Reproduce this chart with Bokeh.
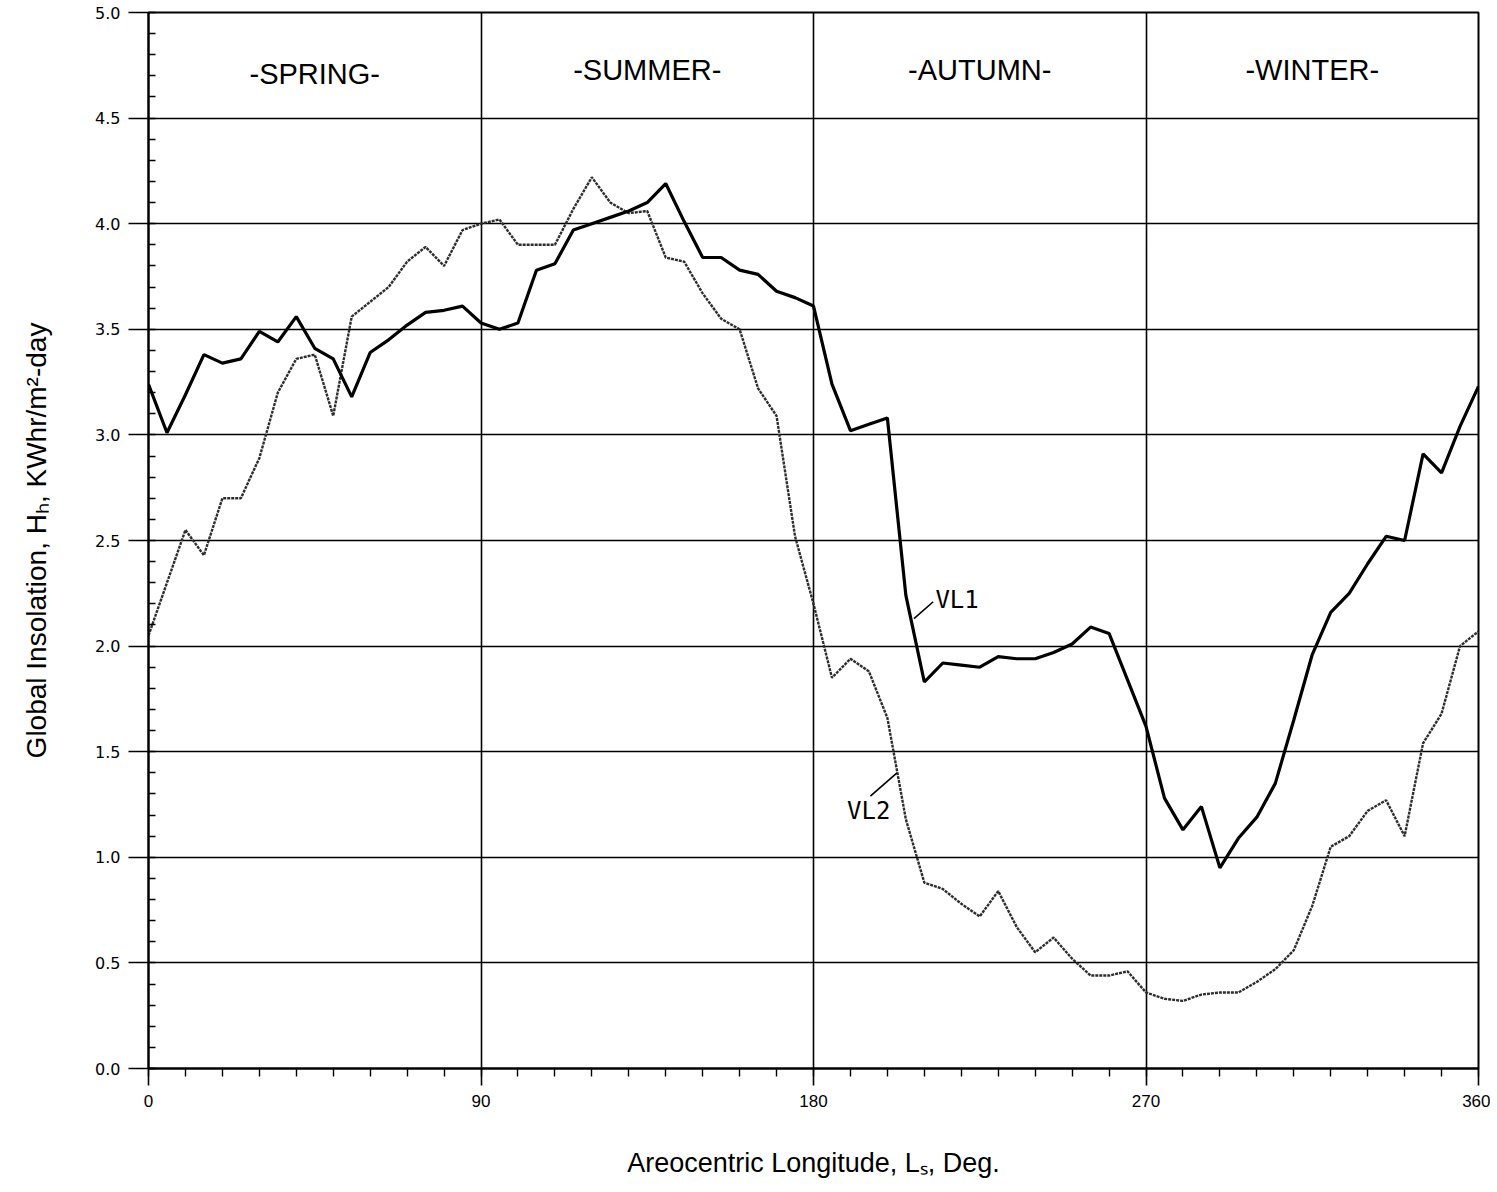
from bokeh.plotting import figure
from bokeh.models import FixedTicker, Range1d, PrintfTickFormatter
from bokeh.embed import file_html
from bokeh.resources import INLINE
from bokeh.core.properties import value

# ---- data ----
ls_deg = list(range(0, 365, 5))
vl1 = [3.24, 3.01, 3.19, 3.38, 3.34, 3.36, 3.49, 3.44, 3.56, 3.41,
       3.36, 3.18, 3.39, 3.45, 3.52, 3.58, 3.59, 3.61, 3.53, 3.50,
       3.53, 3.78, 3.81, 3.97, 4.00, 4.03, 4.06, 4.10, 4.19, 4.01,
       3.84, 3.84, 3.78, 3.76, 3.68, 3.65, 3.61, 3.24, 3.02, 3.05,
       3.08, 2.24, 1.83, 1.92, 1.91, 1.90, 1.95, 1.94, 1.94, 1.97,
       2.01, 2.09, 2.06, 1.84, 1.62, 1.28, 1.13, 1.24, 0.95, 1.09,
       1.19, 1.35, 1.65, 1.96, 2.16, 2.25, 2.39, 2.52, 2.50, 2.91,
       2.82, 3.04, 3.23]
vl2 = [2.05, 2.30, 2.55, 2.43, 2.70, 2.70, 2.89, 3.20, 3.36, 3.38,
       3.09, 3.56, 3.63, 3.70, 3.82, 3.89, 3.80, 3.97, 4.00, 4.02,
       3.90, 3.90, 3.90, 4.07, 4.22, 4.10, 4.05, 4.06, 3.84, 3.82,
       3.67, 3.55, 3.50, 3.22, 3.09, 2.52, 2.20, 1.85, 1.94, 1.88,
       1.66, 1.18, 0.88, 0.85, 0.78, 0.72, 0.84, 0.67, 0.55, 0.62,
       0.52, 0.44, 0.44, 0.46, 0.36, 0.33, 0.32, 0.35, 0.36, 0.36,
       0.41, 0.47, 0.56, 0.77, 1.05, 1.10, 1.22, 1.27, 1.10, 1.54,
       1.68, 2.00, 2.07]

seasons = ["-SPRING-", "-SUMMER-", "-AUTUMN-", "-WINTER-"]
season_mid = [45, 135, 225, 315]
season_y = [4.71, 4.73, 4.73, 4.73]

x_ticks = [0, 90, 180, 270, 360]
x_minor = list(range(0, 361, 10))
y_ticks = [0.0, 0.5, 1.0, 1.5, 2.0, 2.5, 3.0, 3.5, 4.0, 4.5, 5.0]
y_minor = [round(i * 0.1, 1) for i in range(0, 51)]
x_grid = [90, 180, 270]
y_grid = [0.5, 1.0, 1.5, 2.0, 2.5, 3.0, 3.5, 4.0, 4.5]

series_names = ["VL1", "VL2"]
name_x = [213.0, 189.1]
name_y = [2.22, 1.22]
lead_x0 = [207.2, 195.4]
lead_y0 = [2.13, 1.29]
lead_x1 = [212.4, 202.6]
lead_y1 = [2.21, 1.40]

# ---- figure ----
p = figure(frame_width=1330, frame_height=1056,
           x_range=Range1d(0, 360), y_range=Range1d(0, 5),
           output_backend="svg", toolbar_location=None,
           min_border_left=148, min_border_right=12,
           min_border_top=12, min_border_bottom=110,
           background_fill_color="white", border_fill_color="white")

p.outline_line_color = "black"
p.outline_line_width = 2

# grids
p.xgrid.ticker = FixedTicker(ticks=x_grid)
p.ygrid.ticker = FixedTicker(ticks=y_grid)
for g in (p.xgrid, p.ygrid):
    g.grid_line_color = "black"
    g.grid_line_alpha = 1.0
    g.grid_line_width = 1.6

# axes
p.xaxis.ticker = FixedTicker(ticks=x_ticks, minor_ticks=x_minor)
p.yaxis.ticker = FixedTicker(ticks=y_ticks, minor_ticks=y_minor)
p.yaxis.formatter = PrintfTickFormatter(format="%.1f")

for ax in (p.xaxis, p.yaxis):
    ax.axis_line_color = "black"
    ax.axis_line_width = 2
    ax.major_tick_line_color = "black"
    ax.major_tick_line_width = 1.6
    ax.minor_tick_line_color = "black"
    ax.minor_tick_line_width = 1.4
    ax.major_label_text_color = "black"
    ax.axis_label_text_color = "black"
    ax.axis_label_text_font_style = "normal"
    ax.axis_label_text_font = "Liberation Sans"

p.xaxis.major_tick_in = 0
p.xaxis.major_tick_out = 17
p.xaxis.minor_tick_in = 0
p.xaxis.minor_tick_out = 8
p.xaxis.major_label_standoff = 9
p.xaxis.major_label_text_font = "Liberation Sans"
p.xaxis.major_label_text_font_size = "17px"
p.xaxis.axis_label = "Areocentric Longitude, Lₛ, Deg."
p.xaxis.axis_label_text_font_size = "27px"
p.xaxis.axis_label_standoff = 38

p.yaxis.major_tick_in = 0
p.yaxis.major_tick_out = 20
p.yaxis.minor_tick_in = 7
p.yaxis.minor_tick_out = 0
p.yaxis.major_label_standoff = 8
p.yaxis.major_label_text_font = "DejaVu Sans"
p.yaxis.major_label_text_font_size = "16px"
p.yaxis.axis_label = "Global Insolation, Hₕ, KWhr/m²-day"
p.yaxis.axis_label_text_font_size = "28px"
p.yaxis.axis_label_standoff = 40

# series
p.line(ls_deg, vl2, line_color="#2e2e2e", line_width=2.4, line_dash="3 1")
p.line(ls_deg, vl1, line_color="black", line_width=3.2)

# season labels
p.text(x=season_mid, y=season_y, text=seasons,
       text_align="center", text_baseline="middle",
       text_font=value("Liberation Sans"), text_font_size="29px",
       text_color="black")

# series name labels with leaders
p.segment(x0=lead_x0, y0=lead_y0, x1=lead_x1, y1=lead_y1,
          line_color="black", line_width=1.6)
p.text(x=name_x, y=name_y, text=series_names,
       text_align="left", text_baseline="middle",
       text_font=value("DejaVu Sans Mono"), text_font_size="24px",
       text_color="black")

open("out.html", "w").write(file_html(p, INLINE))
